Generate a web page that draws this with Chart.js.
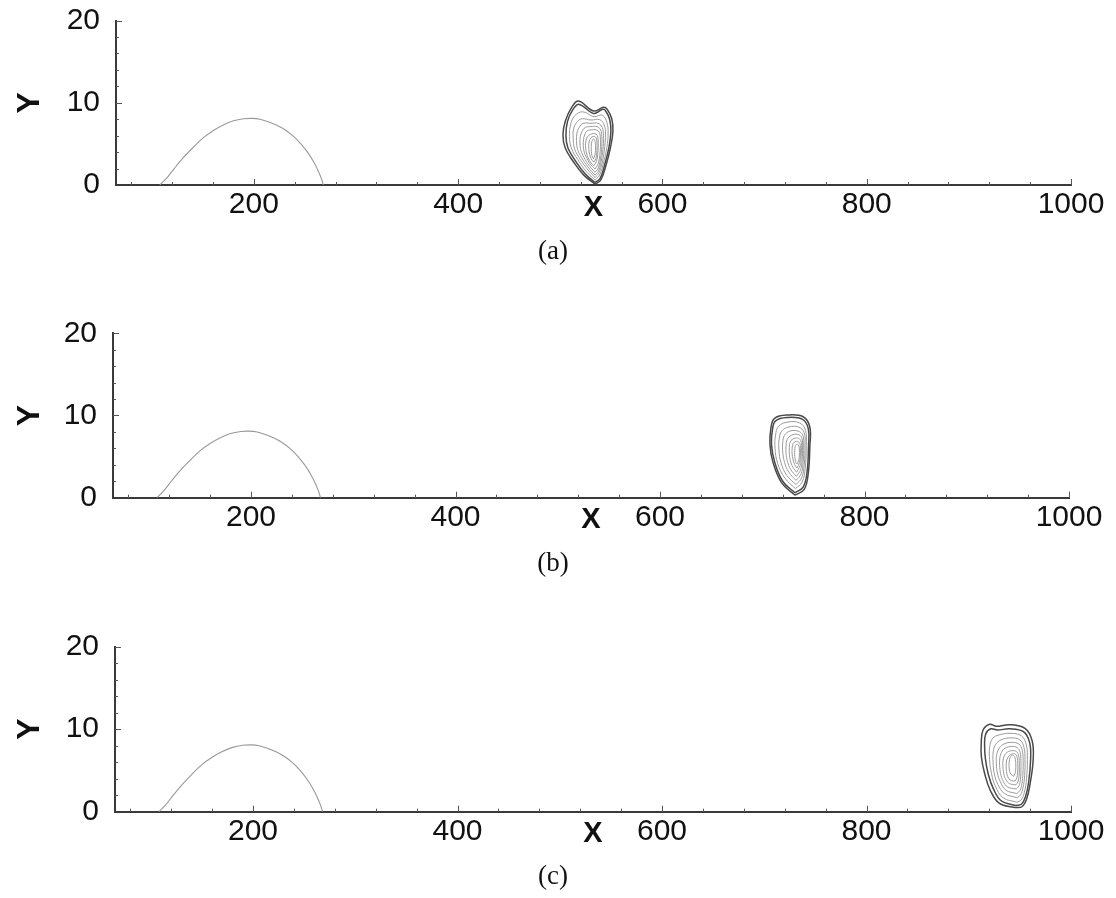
<!DOCTYPE html>
<html>
<head>
<meta charset="utf-8">
<script src="https://cdn.jsdelivr.net/npm/chart.js@4/dist/chart.umd.min.js"></script>
<style>
  body { margin: 0; background: #fff; width: 1116px; height: 898px; position: relative; overflow: hidden; }
  canvas { position: absolute; left: 0; }
  .cap { position: absolute; left: 0; width: 1106px; text-align: center; line-height: 1;
         font-family: "Liberation Serif", "DejaVu Serif", serif; font-size: 27px; color: #111; }
</style>
</head>
<body>
<canvas id="pa" width="1116" height="240" style="top:0px"></canvas>
<canvas id="pb" width="1116" height="240" style="top:312px"></canvas>
<canvas id="pc" width="1116" height="240" style="top:626px"></canvas>
<div class="cap" style="top:237px">(a)</div>
<div class="cap" style="top:549px">(b)</div>
<div class="cap" style="top:862px">(c)</div>
<script>
const xTicks = [200, 400, 600, 800, 1000];
const yTicks = [0, 10, 20];

// bump on the bottom boundary
const hillX = [108, 115, 122, 130, 140, 150, 160, 170, 180, 190, 198, 206, 214, 222, 230, 238, 246, 253, 259, 263, 266, 268];
const hillY = [0, 0.9, 2.0, 3.2, 4.5, 5.7, 6.6, 7.3, 7.8, 8.05, 8.1, 8.0, 7.7, 7.3, 6.75, 6.0, 5.0, 3.9, 2.7, 1.7, 0.8, 0];

// contour rings, outermost first, each starting at the lower tip
const ringsA = [
  [[534,0.1],[539.5,0.6],[544.5,2.3],[549,4.5],[551.5,6.5],[550.5,8.0],[546,9.2],[542.3,9.45],[532.5,9.0],[517.8,10.2],[511,9.4],[505,7.8],[502.6,6.1],[504.8,4.5],[513,2.8],[523,1.2]],
  [[534,0.3],[539,0.8],[543.5,2.5],[547.5,4.5],[549.5,6.4],[548.5,7.9],[544.5,9.0],[541.5,9.2],[532.5,8.7],[518.5,9.8],[512,9.1],[507,7.7],[505.5,6.0],[507.5,4.5],[515,2.9],[524,1.4]],
  [[534,0.6],[538.5,1.2],[542.5,2.8],[545.6,4.6],[546.8,6.3],[545.6,7.6],[541,8.5],[533,8.3],[522,8.9],[514,8.4],[510,7.3],[509,5.9],[510.8,4.5],[517,3.1],[525,1.7]],
  [[534,0.9],[538,1.5],[541.5,3.0],[543.5,4.7],[544.3,6.2],[543,7.3],[538.5,7.95],[530,7.9],[521,8.05],[516,7.6],[513,6.8],[512.6,5.7],[514,4.4],[519,3.2],[526,2.0]],
  [[534,1.2],[537.7,1.8],[540.5,3.2],[542,4.7],[542.3,6.0],[541,7.0],[537,7.5],[530,7.5],[522.5,7.5],[518.5,7.0],[516.3,6.3],[515.8,5.4],[517,4.3],[521,3.3],[527,2.2]],
  [[534,1.55],[537.3,2.1],[539.6,3.4],[540.6,4.7],[540.6,5.9],[539.4,6.7],[536,7.1],[530,7.1],[524.5,7.0],[521.3,6.5],[519.6,5.9],[519.2,5.1],[520.2,4.2],[523,3.4],[528,2.4]],
  [[534,1.95],[536.8,2.5],[538.6,3.6],[539.3,4.7],[539.2,5.7],[538.2,6.4],[535.5,6.7],[530,6.7],[526,6.55],[523.8,6.1],[522.7,5.5],[522.5,4.8],[523.4,4.0],[525.5,3.4],[529,2.6]],
  [[533,2.35],[535.3,2.85],[536.6,3.7],[537.1,4.6],[537,5.5],[536.2,6.0],[534,6.25],[530.5,6.2],[527.5,6.0],[525.6,5.6],[524.8,5.1],[524.8,4.5],[525.6,3.9],[527.3,3.3],[530,2.7]],
  [[533,2.8],[534.8,3.2],[535.7,3.9],[536,4.6],[535.9,5.2],[535.2,5.7],[533.5,5.9],[531,5.85],[529,5.55],[528,5.1],[527.8,4.6],[528.2,4.0],[529.3,3.5],[531,3.0]],
  [[532.5,3.2],[533.8,3.6],[534.4,4.2],[534.5,4.8],[534,5.3],[532.8,5.6],[531.4,5.45],[530.5,5.0],[530.3,4.4],[530.6,3.8],[531.4,3.4]]
];

const ringsB = [
  [[732,0.3],[741,1.0],[745,3.0],[746.5,6.2],[746.5,8.6],[740,9.85],[724,10.05],[712,9.65],[708.5,8.5],[707.5,6.5],[710.5,4.3],[719,1.8]],
  [[732,0.6],[740,1.3],[743.8,3.1],[745.2,6.2],[745,8.4],[739,9.55],[724,9.75],[713,9.35],[710,8.3],[709,6.5],[712,4.4],[720,2.0]],
  [[732.5,1.1],[739,1.9],[742,3.6],[743,6.3],[742.3,8.2],[736.5,9.1],[725,9.2],[716,8.7],[713,7.6],[712.5,6.0],[715,4.2],[722,2.4]],
  [[733,1.6],[738.5,2.4],[741,4.0],[741.8,6.3],[741,7.9],[735.5,8.6],[726,8.6],[719,8.1],[716.5,7.1],[716.3,5.8],[718.5,4.2],[724,2.7]],
  [[733,2.1],[738,2.9],[740,4.3],[740.5,6.3],[739.7,7.6],[735,8.1],[727,8.1],[721.8,7.6],[720,6.7],[720,5.6],[721.8,4.3],[726,3.1]],
  [[733.3,2.6],[737.5,3.4],[739,4.6],[739.4,6.2],[738.6,7.3],[734.8,7.7],[728.5,7.6],[724.5,7.1],[723.3,6.3],[723.3,5.4],[724.7,4.4],[728,3.4]],
  [[733.6,3.1],[737,3.9],[738,4.9],[738.3,6.1],[737.6,6.95],[734.6,7.25],[730,7.15],[727.3,6.75],[726.5,6.1],[726.5,5.3],[727.5,4.5],[730,3.7]],
  [[733.9,3.6],[736.5,4.3],[737.2,5.1],[737.3,6.0],[736.7,6.6],[734.4,6.85],[731.3,6.75],[729.7,6.4],[729.2,5.9],[729.2,5.3],[730,4.7],[731.8,4.0]],
  [[734,4.1],[735.8,4.6],[736.3,5.2],[736.3,5.8],[735.7,6.3],[734.2,6.5],[732.6,6.35],[731.9,6.0],[731.7,5.5],[731.8,5.0],[732.3,4.6],[733,4.25]]
];

const ringsC = [
  [[945,0.5],[952,0.6],[956.5,1.5],[960,3.4],[963,6.3],[962,8.6],[955,10.1],[940,10.55],[927,10.35],[920.5,10.6],[914,9.9],[912.2,8.3],[912.4,6.6],[915.6,4.6],[921,2.6],[930,1.0]],
  [[946,0.75],[951.5,0.9],[955.5,1.8],[958.6,3.6],[960.5,6.3],[959.5,8.4],[953.5,9.7],[940,10.05],[928,9.9],[921.5,10.05],[916.5,9.4],[915.5,8.0],[916.3,6.4],[919,4.6],[924,2.8],[932,1.3]],
  [[947,1.15],[951,1.4],[954.3,2.3],[956.5,4.0],[957.3,6.3],[956.3,8.1],[951.5,9.2],[940.5,9.5],[929.5,9.3],[923.5,8.9],[920.5,7.9],[920.4,6.3],[922.3,4.6],[926,3.1],[933.5,1.7]],
  [[947,1.7],[950.5,2.0],[953,2.9],[954.7,4.4],[955,6.3],[954,7.8],[950,8.7],[941,8.95],[931.5,8.7],[926.5,8.2],[924,7.3],[923.8,6.0],[925,4.6],[928.5,3.3],[935,2.2]],
  [[947,2.2],[950,2.55],[952,3.4],[953,4.7],[953.2,6.2],[952.2,7.5],[949,8.2],[941.5,8.4],[933.5,8.15],[929.3,7.6],[927.2,6.8],[927,5.8],[928,4.7],[931,3.6],[936.5,2.6]],
  [[946.5,2.75],[949,3.1],[950.5,3.9],[951,5.0],[951,6.2],[950.2,7.2],[947.6,7.75],[942,7.9],[935.5,7.7],[932,7.2],[930.4,6.5],[930.2,5.6],[931.2,4.6],[933.6,3.7],[938,3.0]],
  [[946,3.25],[948,3.6],[949.2,4.3],[949.5,5.2],[949.4,6.2],[948.6,6.9],[946.5,7.3],[942.2,7.4],[937.5,7.2],[934.8,6.8],[933.5,6.2],[933.4,5.5],[934.3,4.6],[936.3,3.9],[940,3.4]],
  [[945.5,3.75],[947,4.1],[947.8,4.7],[948,5.4],[947.8,6.2],[947,6.7],[945.4,7.0],[942.4,7.0],[939.6,6.8],[937.6,6.4],[936.7,5.9],[936.7,5.2],[937.5,4.5],[939.2,4.0],[942,3.75]],
  [[944,4.3],[945.2,4.6],[945.9,5.1],[946,5.7],[945.7,6.3],[944.6,6.7],[942.6,6.85],[940.6,6.6],[939.6,6.1],[939.4,5.5],[940,4.9],[941.5,4.5]]
];

const panelRings = [ringsA, ringsB, ringsC];

// plot boxes inside each canvas
const boxes = [
  {id: 'pa', left: 116, right: 1071, top: 20.5, bottom: 185},
  {id: 'pb', left: 113, right: 1069, top: 21.3, bottom: 185.7},
  {id: 'pc', left: 115, right: 1071, top: 20.7, bottom: 185.7}
];

const labelFont = {family: '"Liberation Sans", Arial, sans-serif', size: 30};
const titleFont = {family: '"Liberation Sans", Arial, sans-serif', size: 29, weight: 'bold'};
const yTitleFont = {family: '"Liberation Sans", Arial, sans-serif', size: 32, weight: 'bold'};

// small tick marks pointing into the plot
const innerTicks = {
  id: 'innerTicks',
  afterDraw(chart) {
    const {ctx, chartArea: a, scales: {x, y}} = chart;
    ctx.save();
    ctx.strokeStyle = '#555';
    ctx.lineWidth = 1;
    ctx.beginPath();
    for (let v = 80; v <= 1000; v += 40) {
      const px = Math.round(x.getPixelForValue(v)) + 0.5;
      const len = v % 200 === 0 ? 6 : 3;
      ctx.moveTo(px, a.bottom);
      ctx.lineTo(px, a.bottom - len);
    }
    for (let v = 2; v <= 20; v += 2) {
      const py = Math.round(y.getPixelForValue(v)) + 0.5;
      const len = v % 10 === 0 ? 6 : 3;
      ctx.moveTo(a.left, py);
      ctx.lineTo(a.left + len, py);
    }
    ctx.stroke();
    ctx.restore();
  }
};

const ringSets = rings => rings.map((r, i) => ({
  data: r.concat([r[0]]).map(([x, y]) => ({x, y})),
  showLine: true,
  pointRadius: 0,
  tension: 0.4,
  borderColor: i < 2 ? '#4a4a4a' : '#9a9a9a',
  borderWidth: i < 2 ? 1.5 : 1
}));

const makePanel = (box, rings) => {
  const canvas = document.getElementById(box.id);
  const h = canvas.height;
  return new Chart(canvas, {
    type: 'scatter',
    data: {
      datasets: [{
        data: hillX.map((x, i) => ({x, y: hillY[i]})),
        showLine: true,
        pointRadius: 0,
        tension: 0.3,
        borderColor: '#999',
        borderWidth: 1.1
      }, ...ringSets(rings)]
    },
    options: {
      responsive: false,
      animation: false,
      events: [],
      layout: {padding: {top: box.top, right: canvas.width - box.right, left: 0, bottom: 0}},
      plugins: {legend: {display: false}, tooltip: {enabled: false}},
      scales: {
        x: {
          type: 'linear',
          min: 65,
          max: 1000,
          afterBuildTicks: s => { s.ticks = xTicks.map(v => ({value: v})); },
          afterFit: s => { s.height = h - box.bottom; s.paddingLeft = 0; s.paddingRight = 0; },
          grid: {display: false, drawTicks: false, tickLength: 0},
          border: {display: true, color: '#3a3a3a', width: 2},
          ticks: {color: '#111', font: labelFont, padding: 2, maxRotation: 0, autoSkip: false, callback: v => String(v)},
          title: {display: true, text: 'X', color: '#111', font: titleFont, padding: {top: 0, bottom: 15}}
        },
        y: {
          type: 'linear',
          min: 0,
          max: 20,
          afterBuildTicks: s => { s.ticks = yTicks.map(v => ({value: v})); },
          afterFit: s => { s.width = box.left; s.paddingTop = 0; s.paddingBottom = 0; },
          grid: {display: false, drawTicks: false, tickLength: 0},
          border: {display: true, color: '#3a3a3a', width: 2},
          ticks: {color: '#111', font: labelFont, padding: 16, callback: v => String(v)},
          title: {display: true, text: 'Y', color: '#111', font: yTitleFont, padding: {top: 11, bottom: 0}}
        }
      }
    },
    plugins: [innerTicks]
  });
};

boxes.forEach((b, i) => makePanel(b, panelRings[i]));
</script>
</body>
</html>
